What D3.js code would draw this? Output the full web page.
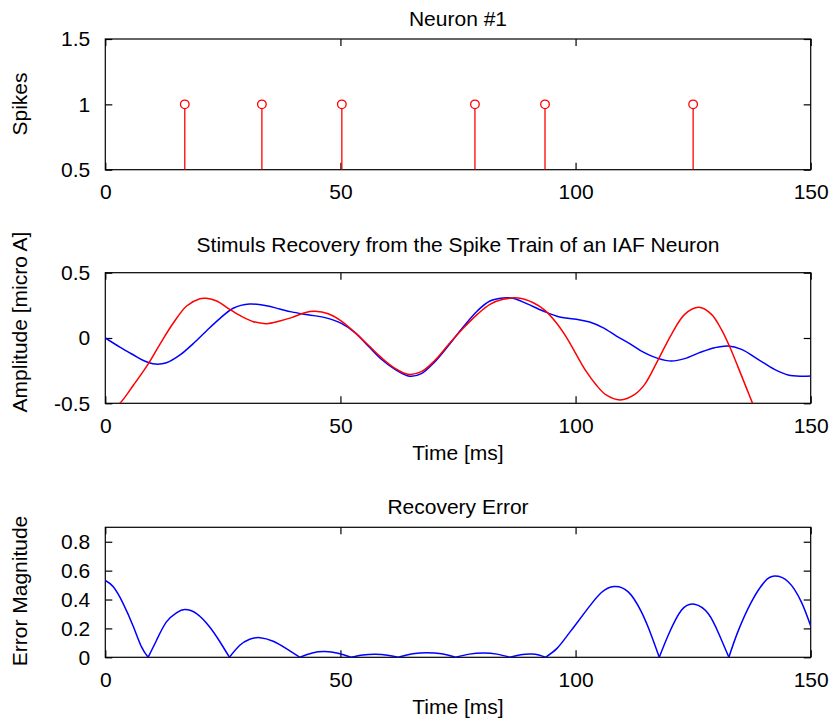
<!DOCTYPE html>
<html>
<head>
<meta charset="utf-8">
<script src="https://cdn.jsdelivr.net/npm/d3@7"></script>
<style>
  body { margin: 0; background: #fff; }
  svg text { font-family: "Liberation Sans", Arial, sans-serif; font-size: 21px; fill: #000; }
</style>
</head>
<body>
<svg id="chart" width="831" height="721"></svg>
<script>
// spike train (ms)
const spikeTimes = [16.9, 33.3, 50.3, 78.6, 93.5, 125.0];
const spikeValues = [1, 1, 1, 1, 1, 1];

// original stimulus (blue) and recovered stimulus (red), micro A
const blueTime = [0, 3.1, 6.0, 8.1, 10.6, 13, 15.9, 18.7, 21.5, 24.4, 27.2, 30.7, 34.3, 37.1, 39.6, 43.1,
  46.7, 50.2, 53.1, 55.9, 58.7, 61.6, 64.7, 67.2, 70.1, 72.9, 76.1, 79.1, 81.8, 84.6, 86.7, 89.6, 93.1,
  96.6, 100.2, 103, 105.8, 108.7, 111.5, 114, 117.5, 120.4, 123.2, 126.7, 129.6, 132.4, 135.3, 138.8,
  142.3, 145.2, 148, 150];
const blueValue = [0, -0.07, -0.13, -0.172, -0.2, -0.19, -0.13, -0.043, 0.054, 0.15, 0.228, 0.26,
  0.247, 0.222, 0.2, 0.178, 0.156, 0.112, 0.041, -0.061, -0.163, -0.24, -0.293, -0.273, -0.181, -0.061,
  0.084, 0.207, 0.283, 0.306, 0.304, 0.263, 0.207, 0.161, 0.143, 0.122, 0.079, 0.015, -0.043, -0.1,
  -0.156, -0.176, -0.158, -0.107, -0.074, -0.061, -0.087, -0.163, -0.24, -0.283, -0.293, -0.291];

const redTime = [0, 1.5, 3.1, 6, 9.1, 11.6, 14.5, 17.3, 20.1, 21.5, 23.7, 26.1, 28.6, 31.5, 34.3, 37.1,
  39.6, 42.4, 44.6, 47.4, 50.2, 53.1, 55.9, 58.7, 61.6, 64.4, 67.2, 70.1, 72.9, 76.1, 79.1, 81.8, 84.6,
  87.8, 91, 93.5, 95.9, 98.1, 100.2, 102.3, 104.4, 106.5, 109.5, 112.6, 114.7, 117.5, 120.4, 123.2,
  126.2, 128.9, 131, 132.8, 134.6, 136.3, 137.6, 140.2, 142.3, 145.2, 148, 150];
const redValue = [-0.56, -0.54, -0.5, -0.36, -0.2, -0.048, 0.117, 0.245, 0.301, 0.304, 0.283, 0.227,
  0.173, 0.125, 0.11, 0.13, 0.156, 0.194, 0.204, 0.186, 0.13, 0.041, -0.054, -0.15, -0.232, -0.278,
  -0.258, -0.171, -0.054, 0.074, 0.181, 0.258, 0.296, 0.306, 0.27, 0.212, 0.117, 0.003, -0.13, -0.258,
  -0.36, -0.436, -0.474, -0.431, -0.355, -0.171, 0.028, 0.181, 0.235, 0.181, 0.066, -0.069, -0.227,
  -0.38, -0.497, -0.71, -0.8, -0.806, -0.677, -0.507];

// recovery error magnitude
const errTime = [0, 1.7, 3.8, 6.0, 7.7, 9.1, 10.9, 13, 15.2, 16.9, 19.4, 22.2, 24.4, 26.4, 28.6, 30.7,
  32.9, 35.7, 38.5, 41.4, 44, 46.7, 49.5, 52.3, 54.8, 57.4, 60, 62.3, 65.4, 68.4, 71.5, 74.5, 77.4, 80.4,
  83.3, 86.0, 88.3, 90.6, 92.2, 93.6, 96, 98, 99.8, 102.7, 105.5, 108.2, 111.2, 114, 116.1, 117.8, 119.7,
  122.5, 125.3, 128.2, 130.6, 132.6, 134.5, 137.4, 140.2, 142.3, 145.2, 148, 150];
const errValue = [0.532, 0.488, 0.372, 0.21, 0.072, 0, 0.118, 0.245, 0.31, 0.331, 0.303, 0.21, 0.106, 0,
  0.083, 0.125, 0.136, 0.111, 0.06, 0, 0.03, 0.04, 0.028, 0, 0.016, 0.021, 0.015, 0, 0.024, 0.032, 0.024,
  0, 0.022, 0.03, 0.022, 0, 0.018, 0.023, 0.016, 0, 0.06, 0.14, 0.217, 0.342, 0.449, 0.49, 0.453, 0.314,
  0.153, 0, 0.153, 0.326, 0.368, 0.303, 0.153, 0, 0.176, 0.384, 0.523, 0.562, 0.523, 0.384, 0.217];

// ticks
const timeTicks = [0, 50, 100, 150];
const spikeTicks = [0.5, 1, 1.5];
const ampTicks = [-0.5, 0, 0.5];
const errTicks = [0, 0.2, 0.4, 0.6, 0.8];

const svg = d3.select("#chart");
const left = 105.3, right = 810.7;
const tick = 7;

function panel(top, bottom, yDomain, yTicks, opts) {
  const x = d3.scaleLinear().domain([0, 150]).range([left, right]);
  const y = d3.scaleLinear().domain(yDomain).range([bottom, top]);
  const g = svg.append("g");

  const fmt = d => String(d);
  g.append("g").attr("transform", `translate(0,${bottom})`)
    .call(d3.axisBottom(x).tickValues(timeTicks).tickFormat(fmt).tickSizeInner(-tick).tickSizeOuter(0).tickPadding(14.6));
  g.append("g").attr("transform", `translate(0,${top})`)
    .call(d3.axisTop(x).tickValues(timeTicks).tickFormat("").tickSizeInner(-tick).tickSizeOuter(0));
  g.append("g").attr("transform", `translate(${left},0)`)
    .call(d3.axisLeft(y).tickValues(yTicks).tickFormat(fmt).tickSizeInner(-tick).tickSizeOuter(0).tickPadding(15));
  g.append("g").attr("transform", `translate(${right},0)`)
    .call(d3.axisRight(y).tickValues(yTicks).tickFormat("").tickSizeInner(-tick).tickSizeOuter(0));

  g.selectAll(".domain").remove();
  g.selectAll(".tick line").attr("stroke", "#000").attr("stroke-width", 1.2);
  g.selectAll(".tick text").attr("font-size", null).attr("font-family", null);

  g.append("rect")
    .attr("x", left).attr("y", top)
    .attr("width", right - left).attr("height", bottom - top)
    .attr("fill", "none").attr("stroke", "#000").attr("stroke-width", 1.2);

  const cx = (left + right) / 2;
  g.append("text").attr("x", cx).attr("y", opts.titleY)
    .attr("text-anchor", "middle").text(opts.title);
  g.append("text")
    .attr("transform", `translate(27,${opts.yLabelY}) rotate(-90)`)
    .attr("text-anchor", "middle").text(opts.yLabel);
  if (opts.xLabel) {
    g.append("text").attr("x", cx).attr("y", bottom + 57)
      .attr("text-anchor", "middle").text(opts.xLabel);
  }

  const id = "clip" + Math.round(top);
  svg.append("clipPath").attr("id", id).append("rect")
    .attr("x", left).attr("y", top).attr("width", right - left).attr("height", bottom - top);
  const plot = g.append("g").attr("clip-path", `url(#${id})`);
  return { x, y, plot };
}

// Neuron #1
const p1 = panel(39, 169.7, [0.5, 1.5], spikeTicks,
  { title: "Neuron #1", titleY: 26, yLabel: "Spikes", yLabelY: 104 });
const spikes = spikeTimes.map((t, i) => ({ t, v: spikeValues[i] }));
p1.plot.selectAll(".stem").data(spikes).join("line")
  .attr("x1", d => p1.x(d.t)).attr("x2", d => p1.x(d.t))
  .attr("y1", p1.y(0.5)).attr("y2", d => p1.y(d.v) + 4)
  .attr("stroke", "#f00").attr("stroke-width", 1.3);
p1.plot.selectAll(".head").data(spikes).join("circle")
  .attr("cx", d => p1.x(d.t)).attr("cy", d => p1.y(d.v)).attr("r", 4.3)
  .attr("fill", "none").attr("stroke", "#f00").attr("stroke-width", 1.3);

// Stimulus recovery
const p2 = panel(272.7, 403.3, [-0.5, 0.5], ampTicks,
  { title: "Stimuls Recovery from the Spike Train of an IAF Neuron", titleY: 252,
    yLabel: "Amplitude [micro A]", yLabelY: 322, xLabel: "Time [ms]" });
const line2 = d3.line().x(d => p2.x(d[0])).y(d => p2.y(d[1])).curve(d3.curveCatmullRom.alpha(0.5));
p2.plot.append("path")
  .datum(blueTime.map((t, i) => [t, blueValue[i]]))
  .attr("d", line2).attr("fill", "none").attr("stroke", "#00f").attr("stroke-width", 1.5);
p2.plot.append("path")
  .datum(redTime.map((t, i) => [t, redValue[i]]))
  .attr("d", line2).attr("fill", "none").attr("stroke", "#f00").attr("stroke-width", 1.5);

// Recovery error
const p3 = panel(527.3, 657.3, [0, 0.9], errTicks,
  { title: "Recovery Error", titleY: 514, yLabel: "Error Magnitude", yLabelY: 591, xLabel: "Time [ms]" });
// split the error into arches at its zeros so the cusps stay sharp
const arches = [];
let cur = [];
errTime.forEach((t, i) => {
  cur.push([t, errValue[i]]);
  if (errValue[i] === 0 && cur.length > 1) {
    arches.push(cur);
    cur = [[t, 0]];
  }
});
if (cur.length > 1) arches.push(cur);
const line3 = d3.line().x(d => p3.x(d[0])).y(d => p3.y(d[1])).curve(d3.curveNatural);
p3.plot.selectAll(".arch").data(arches).join("path")
  .attr("d", line3).attr("fill", "none").attr("stroke", "#00f").attr("stroke-width", 1.5)
  .attr("stroke-linejoin", "round");
</script>
</body>
</html>
